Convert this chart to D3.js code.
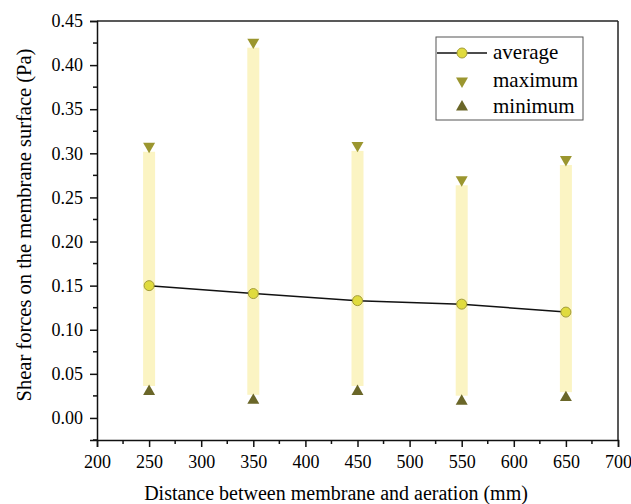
<!DOCTYPE html>
<html>
<head>
<meta charset="utf-8" />
<title>Shear forces</title>
<style type="text/css">
body{
	margin:0;
	background:#fff;
}
text{
	font-family:"Liberation Serif","Times New Roman",serif;
	fill:#000;
}
</style>
<script src="https://cdn.jsdelivr.net/npm/d3@7"></script>
</head>
<body>
<script>
	// data
	var distance = [250, 350, 450, 550, 650];
	var average  = [0.150, 0.141, 0.133, 0.129, 0.120];
	var maximum  = [0.308, 0.426, 0.309, 0.270, 0.293];
	var minimum  = [0.030, 0.020, 0.030, 0.019, 0.023];
	var xTicks = [200, 250, 300, 350, 400, 450, 500, 550, 600, 650, 700];
	var yTicks = [0, 0.05, 0.10, 0.15, 0.20, 0.25, 0.30, 0.35, 0.40, 0.45];

	var W = 631, H = 504;
	var pL = 97, pR = 618, pT = 21, pB = 440;

	var x = d3.scaleLinear().domain([200, 700]).range([pL, pR]);
	var y = d3.scaleLinear().domain([-0.025, 0.45]).range([pB, pT]);

	var svg = d3.select("body").append("svg")
		.attr("width", W)
		.attr("height", H);

	// range bars
	var tri = 5.5;
	svg.selectAll("rect.range")
		.data(distance)
		.enter().append("rect")
		.attr("class", "range")
		.attr("x", function(d){ return x(d) - 6; })
		.attr("width", 12)
		.attr("y", function(d, i){ return y(maximum[i]) + tri; })
		.attr("height", function(d, i){ return y(minimum[i]) - y(maximum[i]) - 2*tri; })
		.attr("fill", "#fbf4c3");

	// average line
	var line = d3.line()
		.x(function(d){ return x(d); })
		.y(function(d, i){ return y(average[i]); });
	svg.append("path")
		.datum(distance)
		.attr("d", line)
		.attr("fill", "none")
		.attr("stroke", "#111")
		.attr("stroke-width", 1.5);

	var tri_sym = d3.symbol().type(d3.symbolTriangle).size(62);

	svg.selectAll("path.max")
		.data(distance)
		.enter().append("path")
		.attr("class", "max")
		.attr("d", tri_sym)
		.attr("transform", function(d, i){ return "translate(" + x(d) + "," + y(maximum[i]) + ") rotate(180)"; })
		.attr("fill", "#9b962f");

	svg.selectAll("path.min")
		.data(distance)
		.enter().append("path")
		.attr("class", "min")
		.attr("d", tri_sym)
		.attr("transform", function(d, i){ return "translate(" + x(d) + "," + y(minimum[i]) + ")"; })
		.attr("fill", "#6a6628");

	svg.selectAll("circle.avg")
		.data(distance)
		.enter().append("circle")
		.attr("class", "avg")
		.attr("cx", function(d){ return x(d); })
		.attr("cy", function(d, i){ return y(average[i]); })
		.attr("r", 5)
		.attr("fill", "#e0db3e")
		.attr("stroke", "#a39c3a")
		.attr("stroke-width", 1);

	// frame
	svg.append("line").attr("x1", pL).attr("x2", pR).attr("y1", pT).attr("y2", pT)
		.attr("stroke", "#222").attr("stroke-width", 1.5);
	svg.append("line").attr("x1", pR).attr("x2", pR).attr("y1", pT).attr("y2", pB)
		.attr("stroke", "#222").attr("stroke-width", 1.5);

	// axes
	var xAxis = d3.axisBottom(x).tickValues(xTicks).tickSize(7).tickPadding(8).tickFormat(d3.format("d"));
	var gx = svg.append("g").attr("transform", "translate(0," + pB + ")").call(xAxis);
	var yAxis = d3.axisLeft(y).tickValues(yTicks).tickSize(7).tickPadding(7).tickFormat(d3.format(".2f"));
	var gy = svg.append("g").attr("transform", "translate(" + pL + ",0)").call(yAxis);

	[gx, gy].forEach(function(g){
		g.attr("font-size", 18).attr("font-family", "Liberation Serif");
		g.select(".domain").attr("stroke", "#111").attr("stroke-width", 1.5);
		g.selectAll(".tick line").attr("stroke", "#111").attr("stroke-width", 1.5);
		g.selectAll(".tick text").attr("fill", "#111");
	});

	// minor ticks
	var xMinor = xTicks.slice(0, -1).map(function(d){ return d + 25; });
	gx.selectAll("line.minor").data(xMinor).enter().append("line")
		.attr("x1", function(d){ return x(d); }).attr("x2", function(d){ return x(d); })
		.attr("y1", 0).attr("y2", 4).attr("stroke", "#111").attr("stroke-width", 1.5);
	var yMinor = [-0.025].concat(yTicks.slice(0, -1).map(function(d){ return d + 0.025; }));
	gy.selectAll("line.minor").data(yMinor).enter().append("line")
		.attr("y1", function(d){ return y(d); }).attr("y2", function(d){ return y(d); })
		.attr("x1", 0).attr("x2", -4).attr("stroke", "#111").attr("stroke-width", 1.5);

	// axis titles
	svg.append("text")
		.attr("x", 336)
		.attr("y", 500)
		.attr("text-anchor", "middle")
		.attr("font-size", 20)
		.text("Distance between membrane and aeration (mm)");
	svg.append("text")
		.attr("transform", "translate(31,225) rotate(-90)")
		.attr("text-anchor", "middle")
		.attr("font-size", 20.5)
		.text("Shear forces on the membrane surface (Pa)");

	// legend
	var lg = svg.append("g");
	lg.append("rect").attr("x", 436).attr("y", 37).attr("width", 147).attr("height", 83)
		.attr("fill", "#fff").attr("stroke", "#555").attr("stroke-width", 1);
	var rows = [53, 81, 107];
	lg.append("line").attr("x1", 437).attr("x2", 487).attr("y1", rows[0]).attr("y2", rows[0])
		.attr("stroke", "#111").attr("stroke-width", 1.5);
	lg.append("circle").attr("cx", 462).attr("cy", rows[0]).attr("r", 5)
		.attr("fill", "#e0db3e").attr("stroke", "#a39c3a");
	lg.append("path").attr("d", tri_sym).attr("transform", "translate(462," + rows[1] + ") rotate(180)").attr("fill", "#9b962f");
	lg.append("path").attr("d", tri_sym).attr("transform", "translate(462," + rows[2] + ")").attr("fill", "#6a6628");
	var names = ["average", "maximum", "minimum"];
	lg.selectAll("text.lab").data(names).enter().append("text")
		.attr("x", 493)
		.attr("y", function(d, i){ return rows[i] + 6; })
		.attr("font-size", 21)
		.text(function(d){ return d; });
</script>
</body>
</html>
